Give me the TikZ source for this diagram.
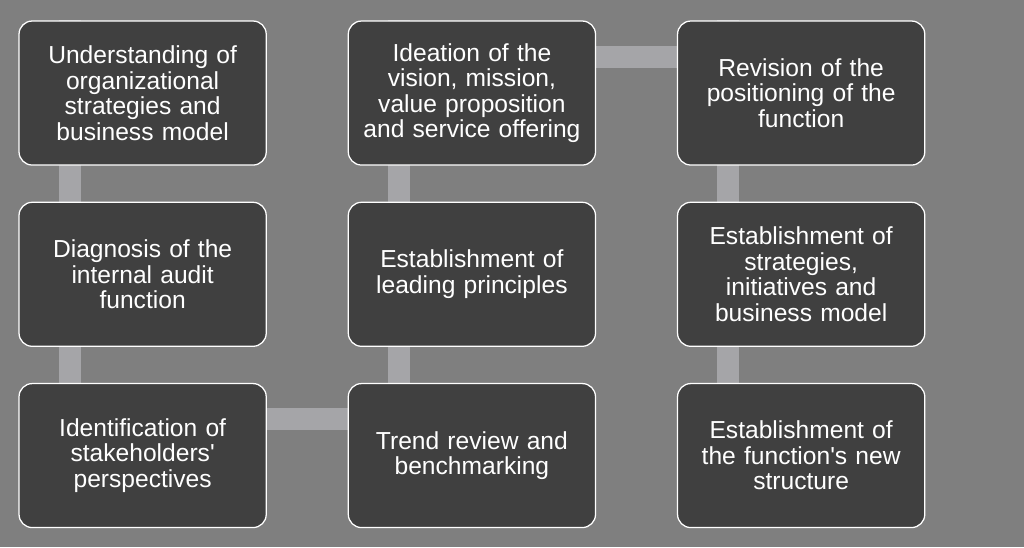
\documentclass[tikz,border=0pt]{standalone}
\usepackage{fontspec}
\setmainfont{Liberation Sans}
\usepackage{xcolor}
\usetikzlibrary{positioning}
\definecolor{pagegray}{HTML}{7F7F7F}
\definecolor{boxgray}{HTML}{404040}
\definecolor{linkgray}{HTML}{A5A5A8}
\pgfdeclarelayer{bg}
\pgfdeclarelayer{links}
\pgfsetlayers{bg,links,main}

\begin{document}
\begin{tikzpicture}[
  stagebox/.style={rectangle, draw=white, line width=0.9pt, fill=boxgray,
    rounded corners=0.33cm, minimum width=6.18cm, minimum height=3.6cm,
    text width=5.8cm, align=center, text=white, inner sep=0pt,
    font=\fontsize{17.5}{18.2}\selectfont},
  link/.style={draw=linkgray, line width=0.55cm},
  node distance=0.9cm and 2.02cm,
]
  \useasboundingbox (0,0) rectangle (25.6,-13.675);
  \begin{pgfonlayer}{bg}
    \fill[pagegray] (0,0) rectangle (25.6,-13.675);
  \end{pgfonlayer}

  % first column
  \node[stagebox, anchor=north west] (u1) at (0.46,-0.51)
    {Understanding of\\organizational\\strategies and\\business model};
  \node[stagebox, below=of u1] (u2) {Diagnosis of the\\internal audit\\function};
  \node[stagebox, below=of u2] (u3) {Identification of\\stakeholders\textquotesingle\\perspectives};

  % second column
  \node[stagebox, right=of u3] (v3) {Trend review and\\benchmarking};
  \node[stagebox, above=of v3] (v2) {Establishment of\\leading principles};
  \node[stagebox, above=of v2] (v1) {Ideation of the\\vision, mission,\\value proposition\\and service offering};

  % third column
  \node[stagebox, right=of v1] (w1) {Revision of the\\positioning of the\\function};
  \node[stagebox, below=of w1] (w2) {Establishment of\\strategies,\\initiatives and\\business model};
  \node[stagebox, below=of w2] (w3) {Establishment of\\the function\textquotesingle s new\\structure};

  % connecting bars
  \begin{pgfonlayer}{links}
    \draw[link] ([xshift=1.28cm]u1.north west) -- ([xshift=1.28cm]u3.south west);
    \draw[link] ([yshift=-0.9cm]u3.north east) -- ([yshift=-0.9cm]v3.north west);
    \draw[link] ([xshift=1.28cm]v3.south west) -- ([xshift=1.28cm]v1.north west);
    \draw[link] ([yshift=-0.92cm]v1.north east) -- ([yshift=-0.92cm]w1.north west);
    \draw[link] ([xshift=1.28cm]w1.north west) -- ([xshift=1.28cm]w3.south west);
  \end{pgfonlayer}
\end{tikzpicture}
\end{document}
